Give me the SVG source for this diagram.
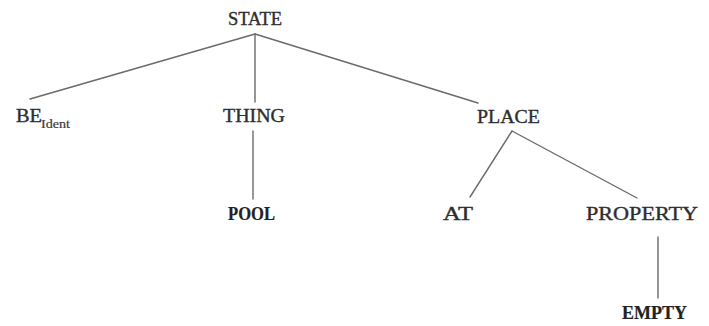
<svg xmlns="http://www.w3.org/2000/svg" width="709" height="326" viewBox="0 0 709 326">
<style>
.lbl{font-family:"Liberation Serif","Times New Roman",serif;font-size:18px;fill:#2e2e2e;stroke:#2e2e2e;stroke-width:0.35;}
.b{font-weight:bold;fill:#222;stroke:#222;stroke-width:0.2;}
.sub{font-family:"Liberation Serif","Times New Roman",serif;font-size:12px;fill:#3a3a3a;stroke:#3a3a3a;stroke-width:0.2;}
.edge{stroke:#6a6a6a;stroke-width:1.4;fill:none;stroke-linecap:round;}
</style>
<rect width="709" height="326" fill="#ffffff"/>
<g id="connectors">
<line class="edge" x1="255" y1="34" x2="30" y2="99"/>
<line class="edge" x1="255" y1="34" x2="255" y2="102"/>
<line class="edge" x1="255" y1="34" x2="478" y2="103"/>
<line class="edge" x1="253" y1="131" x2="253" y2="199"/>
<line class="edge" x1="512" y1="131" x2="470" y2="197"/>
<line class="edge" x1="512" y1="131" x2="637" y2="198"/>
<line class="edge" x1="658" y1="237" x2="658" y2="298"/>
</g>
<g id="state"><text class="lbl" x="228" y="25" textLength="54" lengthAdjust="spacingAndGlyphs">STATE</text></g>
<g id="be"><text class="lbl" x="16" y="122" textLength="26" lengthAdjust="spacingAndGlyphs">BE</text><text class="sub" x="41" y="128" textLength="29" lengthAdjust="spacingAndGlyphs">Ident</text></g>
<g id="thing"><text class="lbl" x="223" y="122" textLength="62" lengthAdjust="spacingAndGlyphs">THING</text></g>
<g id="place"><text class="lbl" x="477" y="123" textLength="63" lengthAdjust="spacingAndGlyphs">PLACE</text></g>
<g id="pool"><text class="lbl b" x="228" y="220" textLength="47" lengthAdjust="spacingAndGlyphs">POOL</text></g>
<g id="at"><text class="lbl" x="443" y="220" textLength="30" lengthAdjust="spacingAndGlyphs">AT</text></g>
<g id="property"><text class="lbl" x="586" y="220" textLength="112" lengthAdjust="spacingAndGlyphs">PROPERTY</text></g>
<g id="empty"><text class="lbl b" x="622" y="319" textLength="65" lengthAdjust="spacingAndGlyphs">EMPTY</text></g>
</svg>
